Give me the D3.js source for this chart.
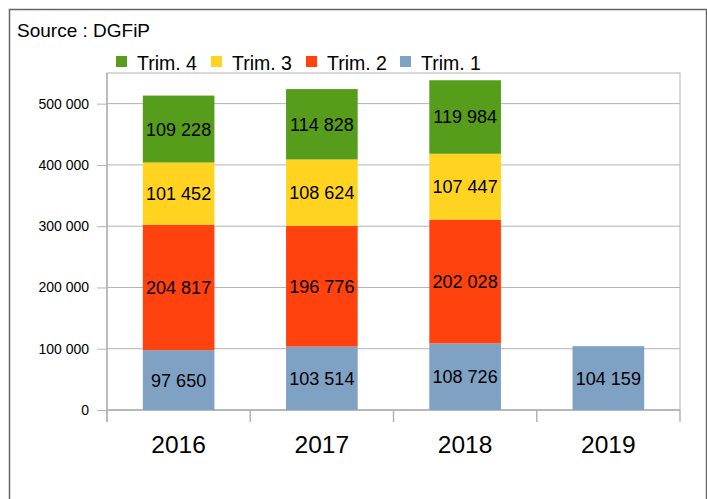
<!DOCTYPE html>
<html><head><meta charset="utf-8">
<script src="https://cdn.jsdelivr.net/npm/d3@7"></script>
<style>body{margin:0;background:#fff;} svg{display:block;font-family:"Liberation Sans",Arial,sans-serif;}</style>
</head><body>
<svg id="c" width="707" height="499"></svg>
<script>
const years = ["2016","2017","2018","2019"];
const trim1 = [97650, 103514, 108726, 104159];
const trim2 = [204817, 196776, 202028, null];
const trim3 = [101452, 108624, 107447, null];
const trim4 = [109228, 114828, 119984, null];
const seriesNames = ["Trim. 1","Trim. 2","Trim. 3","Trim. 4"];
const seriesColors = ["#7fa1c4","#ff420e","#ffd320","#579d1c"];
const yTicks = [0,100000,200000,300000,400000,500000];

const svg = d3.select("#c");
const fmt = v => d3.format(",")(v).replace(/,/g, " ");

// outer frame
svg.append("rect").attr("x",9.5).attr("y",9.5).attr("width",697).attr("height",500)
  .attr("fill","none").attr("stroke","#666").attr("stroke-width",1.5);
svg.append("text").attr("x",17).attr("y",37).attr("font-size",19).attr("fill","#000").text("Source : DGFiP");

const L=107, R=680, T=73, B=410;
const x = d3.scaleBand().domain(years).range([L,R]).paddingInner(0.5).paddingOuter(0.25);
const y = d3.scaleLinear().domain([0,550000]).range([B,T]);

// plot border
svg.append("rect").attr("x",L).attr("y",T).attr("width",R-L).attr("height",B-T)
  .attr("fill","none").attr("stroke","#b3b3b3").attr("stroke-width",1);

// gridlines
svg.append("g").selectAll("line").data(yTicks).join("line")
  .attr("x1",L).attr("x2",R).attr("y1",d=>y(d)).attr("y2",d=>y(d))
  .attr("stroke","#b3b3b3").attr("stroke-width",1);

// y axis
const yAxis = d3.axisLeft(y).tickValues(yTicks).tickFormat(fmt).tickSize(10).tickPadding(8);
const gy = svg.append("g").attr("transform",`translate(${L},0)`).call(yAxis);
gy.select(".domain").remove();
gy.selectAll(".tick line").attr("stroke","#b3b3b3");
gy.selectAll(".tick text").attr("font-size",14).attr("fill","#000").attr("font-family","Liberation Sans, Arial, sans-serif");
svg.append("line").attr("x1",L).attr("x2",L).attr("y1",T).attr("y2",B+12).attr("stroke","#b3b3b3").attr("stroke-width",1.5);

// x axis
const bounds = d3.range(years.length+1).map(i=>L + i*(R-L)/years.length);
svg.append("g").selectAll("line").data(bounds).join("line")
  .attr("x1",d=>d).attr("x2",d=>d).attr("y1",B).attr("y2",B+12)
  .attr("stroke","#b3b3b3").attr("stroke-width",1.5);
svg.append("line").attr("x1",L).attr("x2",R).attr("y1",B).attr("y2",B).attr("stroke","#b3b3b3").attr("stroke-width",1.5);
svg.append("g").selectAll("text").data(years).join("text")
  .attr("x",d=>x(d)+x.bandwidth()/2).attr("y",453).attr("text-anchor","middle")
  .attr("font-size",24.5).attr("fill","#000").text(d=>d);

// stacked data
const data = years.map((yr,i)=>({year:yr, "Trim. 1":trim1[i]||0, "Trim. 2":trim2[i]||0, "Trim. 3":trim3[i]||0, "Trim. 4":trim4[i]||0}));
const stack = d3.stack().keys(seriesNames)(data);
const color = d3.scaleOrdinal().domain(seriesNames).range(seriesColors);

stack.forEach(layer=>{
  const g = svg.append("g");
  layer.forEach((d,i)=>{
    const v = d[1]-d[0];
    if(!v) return;
    g.append("rect").attr("x",x(years[i])).attr("width",x.bandwidth())
      .attr("y",y(d[1])).attr("height",y(d[0])-y(d[1])).attr("fill",color(layer.key));
    g.append("text").attr("x",x(years[i])+x.bandwidth()/2).attr("y",(y(d[0])+y(d[1]))/2+6.5)
      .attr("text-anchor","middle").attr("font-size",18).attr("fill","#000").text(fmt(v));
  });
});

// legend
const legendOrder = ["Trim. 4","Trim. 3","Trim. 2","Trim. 1"];
const legX = [116, 211, 306, 400];
const lg = svg.append("g");
legendOrder.forEach((k,i)=>{
  lg.append("rect").attr("x",legX[i]).attr("y",56).attr("width",11).attr("height",11).attr("fill",color(k));
  lg.append("text").attr("x",legX[i]+21).attr("y",70).attr("font-size",19.5).attr("fill","#000").text(k);
});
</script>
</body></html>
